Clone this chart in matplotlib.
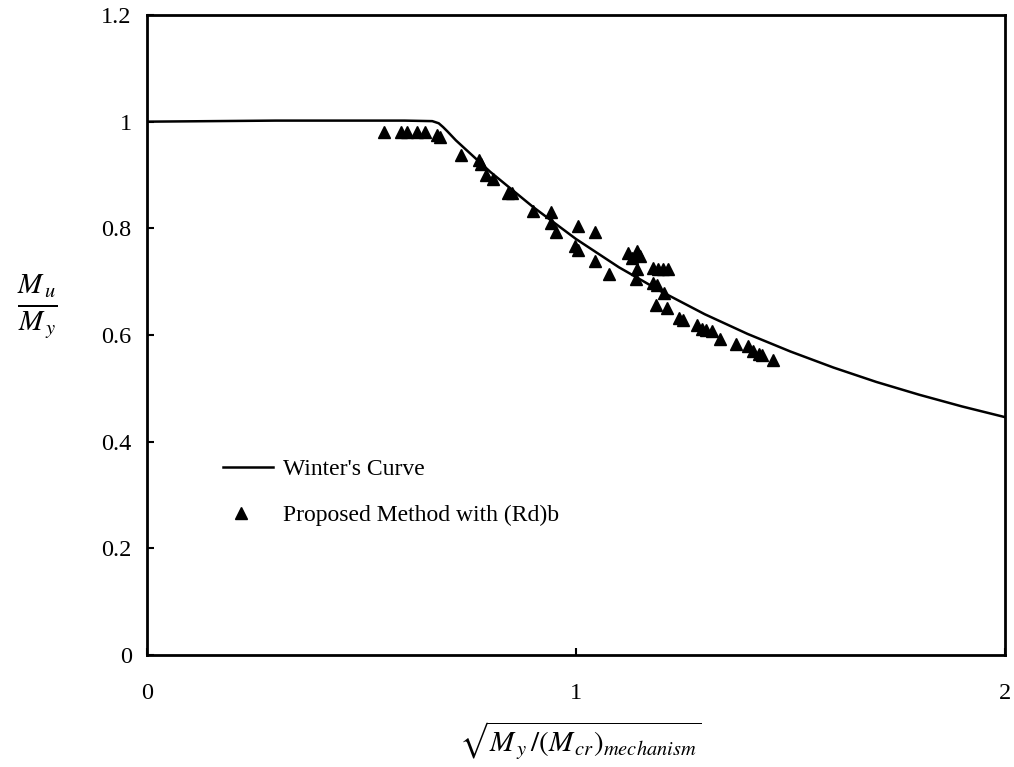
import matplotlib
matplotlib.use("Agg")
import matplotlib.pyplot as plt
from matplotlib.lines import Line2D
from matplotlib.legend_handler import HandlerBase

plt.rcParams['font.family'] = ['Liberation Serif', 'DejaVu Serif']
plt.rcParams['mathtext.fontset'] = 'stix'

# Winter's curve
winter_x = [0.0, 0.3, 0.6, 0.665, 0.68, 0.69, 0.70, 0.72, 0.8, 0.9, 1.0, 1.1, 1.2, 1.3,
            1.4, 1.5, 1.6, 1.7, 1.8, 1.9, 2.0]
winter_y = [1.0, 1.002, 1.002, 1.001, 0.997, 0.990, 0.982, 0.965, 0.906, 0.840, 0.780, 0.727,
            0.681, 0.639, 0.602, 0.569, 0.539, 0.512, 0.488, 0.466, 0.446]

# Proposed Method with (Rd)b
prop_x = [0.552, 0.591, 0.605, 0.630, 0.648, 0.677, 0.684, 0.732, 0.775, 0.778, 0.790, 0.807,
          0.842, 0.850, 0.899, 0.941, 0.941, 0.953, 1.005, 1.044, 0.998, 1.005, 1.044, 1.078,
          1.122, 1.130, 1.143, 1.149, 1.143, 1.140, 1.180, 1.192, 1.203, 1.215, 1.179, 1.188,
          1.205, 1.187, 1.213, 1.240, 1.250, 1.281, 1.293, 1.304, 1.316, 1.336, 1.373, 1.402,
          1.413, 1.427, 1.433, 1.460]
prop_y = [0.980, 0.980, 0.980, 0.980, 0.980, 0.975, 0.972, 0.937, 0.928, 0.921, 0.900, 0.893,
          0.867, 0.866, 0.832, 0.830, 0.810, 0.794, 0.804, 0.794, 0.766, 0.760, 0.738, 0.715,
          0.754, 0.744, 0.757, 0.748, 0.724, 0.705, 0.726, 0.724, 0.723, 0.723, 0.698, 0.693,
          0.678, 0.657, 0.651, 0.632, 0.628, 0.618, 0.612, 0.610, 0.607, 0.593, 0.584, 0.579,
          0.570, 0.565, 0.562, 0.553]

x_ticks = [0, 1, 2]
y_ticks = [0, 0.2, 0.4, 0.6, 0.8, 1, 1.2]
y_ticklabels = ['0', '0.2', '0.4', '0.6', '0.8', '1', '1.2']


class OffsetMarkerHandler(HandlerBase):
    """Place the legend marker left of the handle centre."""
    def create_artists(self, legend, orig_handle, xdescent, ydescent, width, height,
                       fontsize, trans):
        ln = Line2D([0.36 * width - xdescent], [0.5 * height - ydescent], linestyle='none',
                    marker=orig_handle.get_marker(), color=orig_handle.get_color(),
                    ms=orig_handle.get_markersize(), transform=trans)
        return [ln]


fig = plt.figure(figsize=(10.14, 7.67), dpi=100)
ax = fig.add_axes([147/1014, 1 - 655/767, (1005-147)/1014, (655-15)/767])

ax.plot(winter_x, winter_y, color='black', lw=1.8, label="Winter's Curve")
ax.plot(prop_x, prop_y, linestyle='none', marker='^', color='black', ms=9,
        label='Proposed Method with (Rd)b')

ax.set_xlim(0, 2)
ax.set_ylim(0, 1.2)
ax.set_xticks(x_ticks)
ax.set_xticklabels([str(t) for t in x_ticks])
ax.set_yticks(y_ticks)
ax.set_yticklabels(y_ticklabels)
ax.tick_params(direction='in', length=5, width=1.5, labelsize=17.5)
ax.tick_params(axis='x', pad=20)
ax.tick_params(axis='y', pad=11)
for s in ax.spines.values():
    s.set_linewidth(2)

h_line = Line2D([], [], color='black', lw=1.8)
h_mark = Line2D([], [], linestyle='none', marker='^', color='black', ms=9)
ax.legend([h_line, h_mark], ["Winter's Curve", 'Proposed Method with (Rd)b'], frameon=False,
          loc='upper left', bbox_to_anchor=(0.064, 0.34), fontsize=17,
          handlelength=2.1, handletextpad=0.45, labelspacing=1.05,
          handler_map={h_mark: OffsetMarkerHandler()})

fig.text(37/1014, 1 - 306/767, r'$\frac{M_{\,u}}{M_{\,y}}$', fontsize=30, ha='center',
         va='center')
fig.text(580/1014, 1 - 741/767, r'$\sqrt{M_{\,y}\,/(M_{\,cr})_{mechanism}}$', fontsize=21,
         ha='center', va='center')

fig.savefig('out.png', dpi=100)
